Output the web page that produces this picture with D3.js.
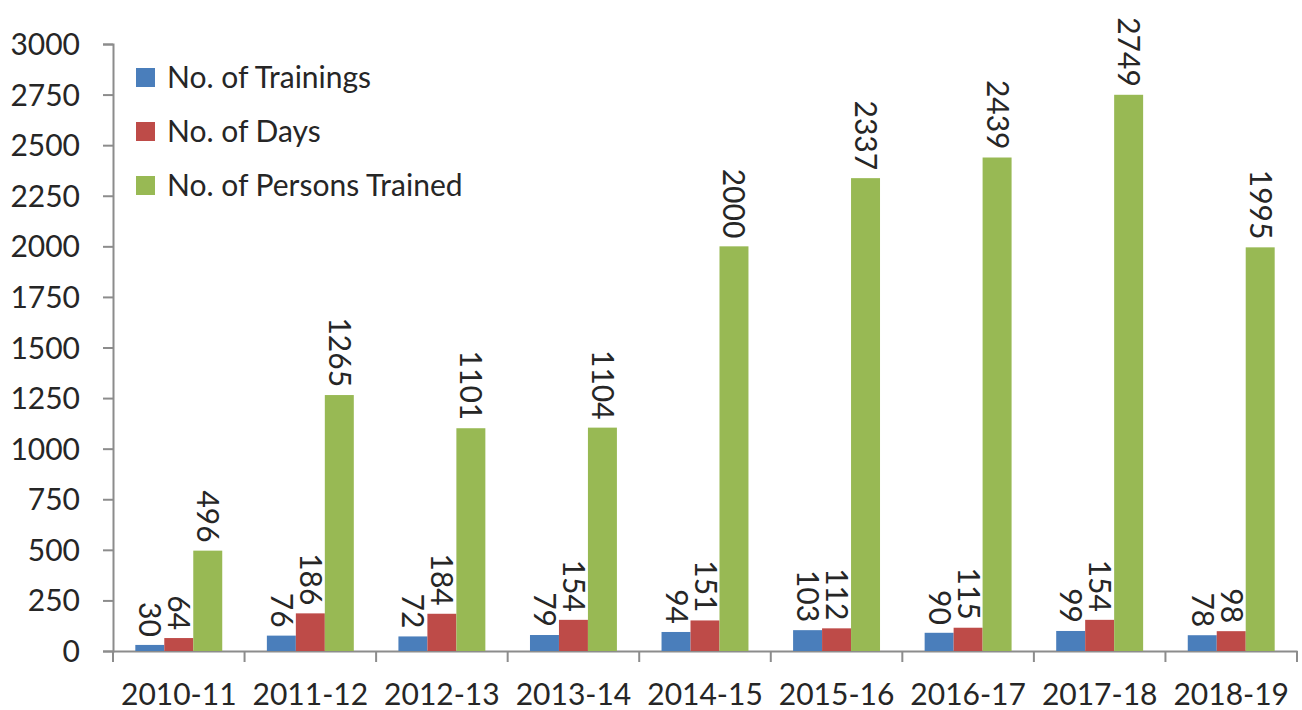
<!DOCTYPE html>
<html>
<head>
<meta charset="utf-8">
<script src="https://cdn.jsdelivr.net/npm/d3@7"></script>
<style>
  body { margin: 0; background: #fff; }
  text { font-family: Lato, "Open Sans", sans-serif; fill: #262626; }
</style>
</head>
<body>
<div id="chart"></div>
<script>
// Chart data
const years = ['2010-11', '2011-12', '2012-13', '2013-14', '2014-15', '2015-16', '2016-17', '2017-18', '2018-19'];
const trainings = [30, 76, 72, 79, 94, 103, 90, 99, 78];
const days = [64, 186, 184, 154, 151, 112, 115, 154, 98];
const persons = [496, 1265, 1101, 1104, 2000, 2337, 2439, 2749, 1995];
const seriesNames = ['No. of Trainings', 'No. of Days', 'No. of Persons Trained'];
const yTicks = [0, 250, 500, 750, 1000, 1250, 1500, 1750, 2000, 2250, 2500, 2750, 3000];

const colors = ['#4a7ebb', '#be4b48', '#98b954'];
const series = [trainings, days, persons];

const width = 1302;
const height = 710;
const margin = { top: 44, right: 5, bottom: 59, left: 113 };
const fontSize = '30px';

const svg = d3.select('#chart')
  .append('svg')
  .attr('width', width)
  .attr('height', height);

const x = d3.scaleBand()
  .domain(years)
  .range([margin.left, width - margin.right])
  .paddingInner(0)
  .paddingOuter(0);

const x1 = d3.scaleBand()
  .domain(d3.range(series.length))
  .range([0, x.bandwidth()])
  .paddingOuter(0.77)
  .paddingInner(0);

const y = d3.scaleLinear()
  .domain([0, 3000])
  .range([height - margin.bottom, margin.top]);

// Axes
const axisColor = '#8c8c8c';

const yAxis = svg.append('g')
  .attr('transform', `translate(${margin.left},0)`)
  .call(d3.axisLeft(y).tickValues(yTicks).tickFormat(d3.format('d')).tickSize(10).tickPadding(23));

const xAxis = svg.append('g')
  .attr('transform', `translate(0,${y(0)})`)
  .call(d3.axisBottom(x).tickSize(0).tickPadding(33));

[yAxis, xAxis].forEach(a => {
  a.select('.domain').attr('stroke', axisColor).attr('stroke-width', 2);
  a.selectAll('.tick line').attr('stroke', axisColor).attr('stroke-width', 2);
  a.selectAll('text')
    .style('font-size', fontSize)
    .style('font-family', 'Lato, "Open Sans", sans-serif')
    .attr('fill', '#262626');
});
yAxis.selectAll('text').attr('dy', '0.35em');

// category boundary ticks on x axis
svg.append('g')
  .selectAll('line')
  .data(years.concat(['end']))
  .enter()
  .append('line')
  .attr('x1', (d, i) => i < years.length ? x(d) : x.range()[1])
  .attr('x2', (d, i) => i < years.length ? x(d) : x.range()[1])
  .attr('y1', y(0))
  .attr('y2', y(0) + 11)
  .attr('stroke', axisColor)
  .attr('stroke-width', 2);

// Bars
const groups = svg.append('g')
  .selectAll('g')
  .data(years)
  .enter()
  .append('g')
  .attr('transform', d => `translate(${x(d)},0)`);

groups.selectAll('rect')
  .data((d, i) => series.map((s, k) => ({ k, v: s[i] })))
  .enter()
  .append('rect')
  .attr('x', d => x1(d.k))
  .attr('width', x1.bandwidth())
  .attr('y', d => y(d.v))
  .attr('height', d => y(0) - y(d.v))
  .attr('fill', d => colors[d.k]);

// Value labels, rotated
groups.selectAll('text.val')
  .data((d, i) => series.map((s, k) => ({ k, v: s[i] })))
  .enter()
  .append('text')
  .attr('class', 'val')
  .attr('transform', d => `translate(${x1(d.k) + x1.bandwidth() / 2},${y(d.v) - 8}) rotate(90)`)
  .attr('text-anchor', 'end')
  .attr('dy', '0.35em')
  .style('font-size', fontSize)
  .text(d => d.v);

// Legend
const legend = svg.append('g')
  .attr('transform', 'translate(136, 77)');

const legendItems = legend.selectAll('g')
  .data(seriesNames)
  .enter()
  .append('g')
  .attr('transform', (d, i) => `translate(0, ${i * 54})`);

legendItems.append('rect')
  .attr('x', 0)
  .attr('y', -9)
  .attr('width', 19)
  .attr('height', 19)
  .attr('fill', (d, i) => colors[i]);

legendItems.append('text')
  .attr('x', 31)
  .attr('dy', '0.35em')
  .style('font-size', fontSize)
  .text(d => d);
</script>
</body>
</html>
